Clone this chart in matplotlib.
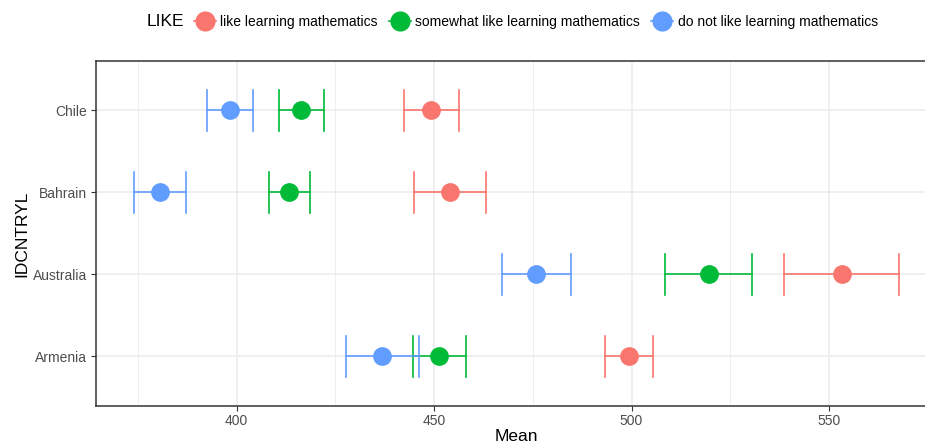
import matplotlib
matplotlib.use("Agg")
import matplotlib.pyplot as plt
from matplotlib.lines import Line2D
from matplotlib.ticker import MultipleLocator

plt.rcParams["font.family"] = ["Liberation Sans", "DejaVu Sans"]

countries = ["Armenia", "Australia", "Bahrain", "Chile"]
groups = ["like learning mathematics",
          "somewhat like learning mathematics",
          "do not like learning mathematics"]
colors = ["#F8766D", "#00BA38", "#619CFF"]

# mean and confidence bounds, one list per group, ordered as countries
means = {
    "like learning mathematics": [499.3, 553.2, 454.1, 449.2],
    "somewhat like learning mathematics": [451.3, 519.5, 413.3, 416.4],
    "do not like learning mathematics": [436.9, 475.8, 380.6, 398.3],
}
lower = {
    "like learning mathematics": [493.4, 538.5, 444.9, 442.4],
    "somewhat like learning mathematics": [444.7, 508.5, 408.2, 410.7],
    "do not like learning mathematics": [427.6, 467.3, 374.0, 392.4],
}
upper = {
    "like learning mathematics": [505.4, 567.8, 463.2, 456.2],
    "somewhat like learning mathematics": [458.0, 530.4, 418.7, 422.2],
    "do not like learning mathematics": [446.2, 484.6, 387.2, 404.1],
}

W, H = 925, 446
fig = plt.figure(figsize=(W / 100, H / 100), dpi=100)
left, right, top, bottom = 95.7, 937.5, 61, 405.7
ax = fig.add_axes([left / W, 1 - bottom / H, (right - left) / W, (bottom - top) / H])

ypos = list(range(1, len(countries) + 1))
for g, c in zip(groups, colors):
    for y, m, lo, hi in zip(ypos, means[g], lower[g], upper[g]):
        ax.plot([lo, hi], [y, y], color=c, lw=1.2, zorder=3)
        ax.plot([lo, lo], [y - 0.25, y + 0.25], color=c, lw=1.2, zorder=3)
        ax.plot([hi, hi], [y - 0.25, y + 0.25], color=c, lw=1.2, zorder=3)
    ax.plot(means[g], ypos, "o", color=c, ms=13.5, mec="none", zorder=4)

lo_all = min(min(v) for v in lower.values())
hi_all = max(max(v) for v in upper.values())
pad = (hi_all - lo_all) * 0.05
ax.set_xlim(lo_all - pad, hi_all + pad)
ax.set_ylim(0.4, len(countries) + 0.6)
ax.set_yticks(ypos)
ax.set_yticklabels(countries)
ax.xaxis.set_major_locator(MultipleLocator(50))
ax.xaxis.set_minor_locator(MultipleLocator(25))
ax.tick_params(axis="both", which="major", labelsize=10, labelcolor="#4D4D4D",
               color="#333333", length=3.5, width=0.8, pad=2.5)
ax.tick_params(axis="x", which="minor", length=0)
ax.grid(True, which="major", color="#EBEBEB", lw=1.1)
ax.grid(True, which="minor", axis="x", color="#EBEBEB", lw=0.6)
ax.set_axisbelow(True)
for s in ax.spines.values():
    s.set_color("#333333")
    s.set_linewidth(1.1)

ax.set_xlabel("Mean", fontsize=12.5, labelpad=1)
ax.set_ylabel("IDCNTRYL", fontsize=12.5, labelpad=3)

handles = [Line2D([], [], color=c, lw=1.2, marker="o", ms=14.5, mec="none")
           for c in colors]
fig.text(147 / W, 1 - 22 / H, "LIKE", fontsize=12.5, va="center", ha="left")
fig.legend(handles, groups, loc="center left", bbox_to_anchor=(194 / W, 1 - 22 / H),
           ncol=3, frameon=False, fontsize=10, handlelength=1.6, handletextpad=0.3,
           columnspacing=0.8, borderaxespad=0, borderpad=0)

fig.savefig("out.png", dpi=100)
